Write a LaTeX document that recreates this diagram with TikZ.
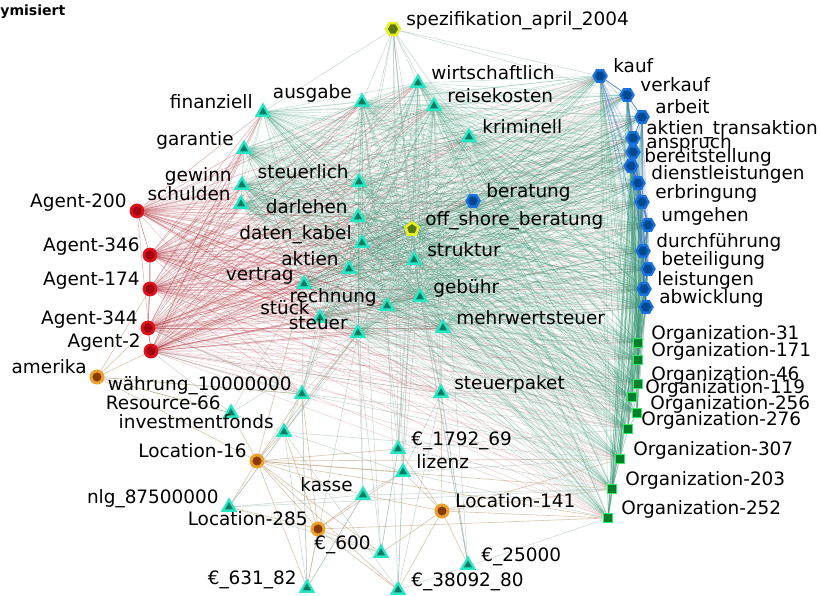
\documentclass[tikz,border=0pt]{standalone}
\usepackage{fontspec}
\setmainfont{DejaVu Sans}
\usetikzlibrary{shapes.geometric}

\pgfdeclarelayer{bg}
\pgfdeclarelayer{edges}
\pgfsetlayers{bg,edges,main}

% node colours (inner fill / bright rim)
\definecolor{agentIn}{HTML}{A0000F}
\definecolor{agentOut}{HTML}{E0101A}
\definecolor{termIn}{HTML}{0E7A62}
\definecolor{termOut}{HTML}{26E6C4}
\definecolor{blueIn}{HTML}{004A92}
\definecolor{blueOut}{HTML}{1A72E0}
\definecolor{yelIn}{HTML}{5A7812}
\definecolor{yelOut}{HTML}{E6F020}
\definecolor{locIn}{HTML}{8A3C00}
\definecolor{locOut}{HTML}{EBA030}
\definecolor{orgIn}{HTML}{00802A}
\definecolor{orgOut}{HTML}{30EE60}
% edge colours
\definecolor{redEdge}{HTML}{B0303A}
\definecolor{greenEdge}{HTML}{3C9A78}
\definecolor{tanEdge}{HTML}{B89870}
\definecolor{blueEdge}{HTML}{2060C0}
\definecolor{greyEdge}{HTML}{8AA89C}

\tikzset{
  term/.style={regular polygon, regular polygon sides=3, fill=termIn, draw=termOut,
    line width=1.3pt, minimum size=0.29cm, inner sep=0pt},
  agent/.style={circle, fill=agentIn, draw=agentOut, line width=1.6pt,
    minimum size=0.24cm, inner sep=0pt},
  loc/.style={circle, fill=locIn, draw=locOut, line width=1.7pt,
    minimum size=0.24cm, inner sep=0pt},
  bluen/.style={regular polygon, regular polygon sides=6, fill=blueIn, draw=blueOut,
    line width=1.3pt, minimum size=0.26cm, inner sep=0pt},
  yel/.style={regular polygon, regular polygon sides=5, fill=yelIn, draw=yelOut,
    line width=1.5pt, minimum size=0.27cm, inner sep=0pt},
  org/.style={rectangle, fill=orgIn, draw=orgOut, line width=1pt,
    minimum size=0.18cm, inner sep=0pt},
  lbl/.style={font=\fontsize{10.5}{12}\selectfont, inner sep=0pt,
    text height=7.6pt, text depth=2.1pt},
  eR/.style={draw=redEdge, line width=0.3pt, opacity=0.38},
  eG/.style={draw=greenEdge, line width=0.3pt, opacity=0.3},
  eT/.style={draw=tanEdge, line width=0.35pt, opacity=0.55},
  eB/.style={draw=blueEdge, line width=0.4pt, opacity=0.5},
  eY/.style={draw=greyEdge, line width=0.3pt, opacity=0.45},
}

\newcommand\labL[2]{\node[lbl,anchor=east] at ([shift={(-10,-8)}]#1) {#2};}
\newcommand\labR[2]{\node[lbl,anchor=west] at ([shift={(13,-8)}]#1) {#2};}

\def\Agents{a200,a346,a174,a344,a2}
\def\Upper{fin,ausg,wirt,reis,krim,gar,steul,gew,schul,darl,datk,akt,vert,rech,stue,steu,strk,gebu,mwst,ber}
\def\Blue{kauf,verk,arb,aktr,ansp,bere,dien,erbr,umg,durch,bet,leis,abw}
\def\Orgs{o31,o171,o46,o119,o256,o276,o307,o203,o252}

\begin{document}
\begin{tikzpicture}[x=0.02cm, y=-0.02cm]
\useasboundingbox (0,0) rectangle (820,595);
\begin{pgfonlayer}{bg}
  \fill[white] (0,0) rectangle (820,595);
\end{pgfonlayer}

\node[font=\bfseries\fontsize{8}{9}\selectfont, anchor=base west, inner sep=0pt] (hdr) at (0,15) {ymisiert};

% yellow documents
\node[yel, regular polygon sides=6] (spez) at (393,29) {};
\node[yel] (off) at (412,229) {};

% upper terms
\node[term] (fin) at (263,112) {};
\node[term] (ausg) at (362,102) {};
\node[term] (wirt) at (418,83) {};
\node[term] (reis) at (434,106) {};
\node[term] (krim) at (469,137) {};
\node[term] (gar) at (244,149) {};
\node[term] (steul) at (359,182) {};
\node[term] (gew) at (242,185) {};
\node[term] (schul) at (241,204) {};
\node[term] (darl) at (358,217) {};
\node[term] (datk) at (362,243) {};
\node[term] (akt) at (349,269) {};
\node[term] (vert) at (304,284) {};
\node[term] (rech) at (387,306) {};
\node[term] (stue) at (320,318) {};
\node[term] (steu) at (358,333) {};
\node[term] (strk) at (414,260) {};
\node[term] (gebu) at (420,297) {};
\node[term] (mwst) at (443,328) {};
\node[bluen] (ber) at (473,201) {};

% lower terms
\node[term] (waeh) at (302,394) {};
\node[term] (r66) at (231,413) {};
\node[term] (inv) at (284,432) {};
\node[term] (stpk) at (441,393) {};
\node[term] (e1792) at (398,449) {};
\node[term] (liz) at (403,472) {};
\node[term] (kas) at (363,495) {};
\node[term] (nlg) at (229,507) {};
\node[term] (e600) at (381,553) {};
\node[term] (e25k) at (468,565) {};
\node[term] (e631) at (307,588) {};
\node[term] (e380) at (398,590) {};

% agents
\node[agent] (a200) at (137,211) {};
\node[agent] (a346) at (150,255) {};
\node[agent] (a174) at (150,289) {};
\node[agent] (a344) at (148,328) {};
\node[agent] (a2) at (151,351) {};

% locations
\node[loc] (amer) at (97,377) {};
\node[loc] (l16) at (257,461) {};
\node[loc] (l285) at (318,529) {};
\node[loc] (l141) at (442,511) {};

% activities
\node[bluen] (kauf) at (600,76) {};
\node[bluen] (verk) at (627,95) {};
\node[bluen] (arb) at (642,117) {};
\node[bluen] (aktr) at (633,138) {};
\node[bluen] (ansp) at (633,152) {};
\node[bluen] (bere) at (631,166) {};
\node[bluen] (dien) at (638,183) {};
\node[bluen] (erbr) at (642,202) {};
\node[bluen] (umg) at (648,225) {};
\node[bluen] (durch) at (643,251) {};
\node[bluen] (bet) at (648,269) {};
\node[bluen] (leis) at (644,289) {};
\node[bluen] (abw) at (646,307) {};

% organizations
\node[org] (o31) at (638,343) {};
\node[org] (o171) at (638,360) {};
\node[org] (o46) at (638,384) {};
\node[org] (o119) at (632,397) {};
\node[org] (o256) at (637,413) {};
\node[org] (o276) at (628,429) {};
\node[org] (o307) at (620,459) {};
\node[org] (o203) at (612,489) {};
\node[org] (o252) at (608,518) {};

% labels
\labR{spez}{spezifikation\_april\_2004}
\labR{off}{off\_shore\_beratung}
\labR{ber}{beratung}
\labL{fin}{finanziell}
\labL{ausg}{ausgabe}
\labR{wirt}{wirtschaftlich}
\labR{reis}{reisekosten}
\labR{krim}{kriminell}
\labL{gar}{garantie}
\labL{steul}{steuerlich}
\labL{gew}{gewinn}
\labL{schul}{schulden}
\labL{darl}{darlehen}
\labL{datk}{daten\_kabel}
\labL{akt}{aktien}
\labL{vert}{vertrag}
\labL{rech}{rechnung}
\labL{stue}{stück}
\labL{steu}{steuer}
\labR{strk}{struktur}
\labR{gebu}{gebühr}
\labR{mwst}{mehrwertsteuer}
\labL{waeh}{währung\_10000000}
\labL{r66}{Resource-66}
\labL{inv}{investmentfonds}
\labR{stpk}{steuerpaket}
\labR{e1792}{€\_1792\_69}
\labR{liz}{lizenz}
\labL{kas}{kasse}
\labL{nlg}{nlg\_87500000}
\labL{e600}{€\_600}
\labR{e25k}{€\_25000}
\labL{e631}{€\_631\_82}
\labR{e380}{€\_38092\_80}
\labL{a200}{Agent-200}
\labL{a346}{Agent-346}
\labL{a174}{Agent-174}
\labL{a344}{Agent-344}
\labL{a2}{Agent-2}
\labL{amer}{amerika}
\labL{l16}{Location-16}
\labL{l285}{Location-285}
\labR{l141}{Location-141}
\labR{kauf}{kauf}
\labR{verk}{verkauf}
\labR{arb}{arbeit}
\labR{aktr}{aktien\_transaktion}
\labR{ansp}{anspruch}
\labR{bere}{bereitstellung}
\labR{dien}{dienstleistungen}
\labR{erbr}{erbringung}
\labR{umg}{umgehen}
\labR{durch}{durchführung}
\labR{bet}{beteiligung}
\labR{leis}{leistungen}
\labR{abw}{abwicklung}
\labR{o31}{Organization-31}
\labR{o171}{Organization-171}
\labR{o46}{Organization-46}
\labR{o119}{Organization-119}
\labR{o256}{Organization-256}
\labR{o276}{Organization-276}
\labR{o307}{Organization-307}
\labR{o203}{Organization-203}
\labR{o252}{Organization-252}

% connectors
\begin{pgfonlayer}{edges}
  % agents to terms, activities and organizations
  \foreach \p in \Agents {
    \foreach \q in \Upper { \draw[eR] (\p) -- (\q); }
    \foreach \q in \Blue { \draw[eR, opacity=0.25] (\p) -- (\q); }
    \foreach \q in \Orgs { \draw[eR, opacity=0.22] (\p) -- (\q); }
    \foreach \q in {waeh,stpk,off} { \draw[eR, opacity=0.28] (\p) -- (\q); }
  }
  \draw[eR, opacity=0.6] (a200) -- (a346) -- (a174) -- (a344) -- (a2);
  \draw[eR, opacity=0.4] (a200) -- (a2) (a346) -- (a344);
  % terms among themselves
  \foreach \p [count=\i] in \Upper {
    \foreach \q [count=\j] in \Upper { \ifnum\j>\i \draw[eG] (\p) -- (\q); \fi }
  }
  % terms to activities and organizations
  \foreach \p in \Upper {
    \foreach \q in \Blue { \draw[eG] (\p) -- (\q); }
    \foreach \q in \Orgs { \draw[eG, opacity=0.25] (\p) -- (\q); }
  }
  % activities among themselves and to organizations
  \foreach \p [count=\i] in \Blue {
    \foreach \q [count=\j] in \Blue { \ifnum\j>\i \draw[eB, opacity=0.25] (\p) -- (\q); \fi }
    \foreach \q in \Orgs { \draw[eG, opacity=0.35] (\p) -- (\q); }
  }
  \draw[eB, opacity=0.7] (kauf) -- (verk) -- (arb) -- (aktr) -- (ansp) -- (bere) -- (dien)
    -- (erbr) -- (umg) -- (durch) -- (bet) -- (leis) -- (abw);
  \draw[eG, opacity=0.6] (o31) -- (o171) -- (o46) -- (o119) -- (o256) -- (o276) -- (o307) -- (o203) -- (o252);
  % documents
  \foreach \q in \Upper { \draw[eG, opacity=0.4] (off) -- (\q); }
  \foreach \q in \Blue { \draw[eG, opacity=0.4] (off) -- (\q); }
  \foreach \q in \Orgs { \draw[eG, opacity=0.4] (off) -- (\q); }
  \foreach \q in {fin,ausg,wirt,reis,krim,steul,darl,strk,gebu,mwst,kauf,verk,off,e1792,liz} {
    \draw[eY] (spez) -- (\q); }
  % lower terms
  \foreach \q in {a2,a344,amer,steu,stue,vert,ausg,darl,o276,o307,wirt,e631} { \draw[eY] (waeh) -- (\q); }
  \foreach \q in {inv,amer,a2,steu,vert} { \draw[eY] (r66) -- (\q); }
  \foreach \q in {waeh,steu,rech,liz,o307,akt,e380} { \draw[eY] (inv) -- (\q); }
  \foreach \q in {off,strk,gebu,e25k,o46,o119,o256,o276,wirt,a2,reis,mwst} { \draw[eY] (stpk) -- (\q); }
  \foreach \q in {reis,wirt,e600,o203,off,ausg,o276} { \draw[eY] (e1792) -- (\q); }
  \foreach \q in {kas,e380,ausg,reis,o252,stpk,wirt,o307} { \draw[eY] (liz) -- (\q); }
  \foreach \q in {e631,o203,steu,darl} { \draw[eY] (kas) -- (\q); }
  \foreach \q in {o203,kas,inv,e600,steu} { \draw[eY] (nlg) -- (\q); }
  \foreach \q in {e1792,akt,datk} { \draw[eY] (e600) -- (\q); }
  \foreach \q in {reis,strk,stpk,gebu} { \draw[eY] (e25k) -- (\q); }
  \foreach \q in {waeh,inv,kas,steu} { \draw[eY] (e631) -- (\q); }
  \foreach \q in {rech,stpk,o252,off} { \draw[eY] (e380) -- (\q); }
  % locations
  \foreach \q in {waeh,r66,inv,nlg,kas,e600,e631,liz,e380,l285,amer,e1792,o307,o203,o252,steu,vert} { \draw[eT] (l16) -- (\q); }
  \foreach \q in {kas,e600,e631,nlg,e380,waeh,liz,inv,o252} { \draw[eT] (l285) -- (\q); }
  \foreach \q in {e1792,liz,e25k,stpk,kas,e600,o203,o252,o307,e380} { \draw[eT] (l141) -- (\q); }
  \foreach \q in {a2,a344,waeh,r66,a174} { \draw[eT] (amer) -- (\q); }
\end{pgfonlayer}
\end{tikzpicture}
\end{document}
